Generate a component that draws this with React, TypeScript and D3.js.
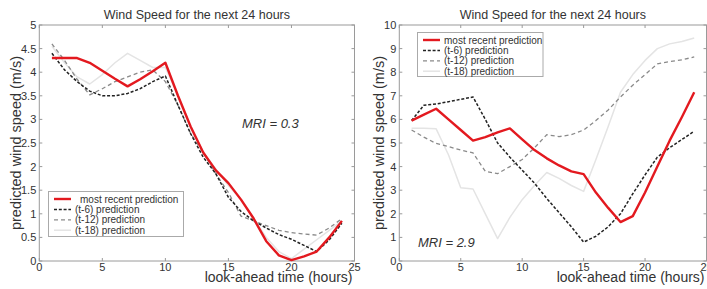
import * as d3 from "d3";

// look-ahead hours 1..24
const hours = d3.range(1, 25);

// left panel (MRI = 0.3)
const leftRecent = [4.3, 4.3, 4.3, 4.2, 4.03, 3.86, 3.7, 3.85, 4.02, 4.2, 3.5, 2.85, 2.3, 1.92, 1.65, 1.3, 0.9, 0.42, 0.12, 0.02, 0.1, 0.2, 0.5, 0.85];
const leftT6 = [4.4, 4.05, 3.8, 3.6, 3.5, 3.5, 3.55, 3.65, 3.8, 3.92, 3.3, 2.7, 2.2, 1.85, 1.35, 1.05, 0.85, 0.7, 0.56, 0.46, 0.33, 0.2, 0.45, 0.8];
const leftT12 = [4.6, 4.25, 3.85, 3.52, 3.65, 3.8, 3.9, 4.0, 4.05, 3.8, 3.3, 2.7, 2.3, 1.85, 1.45, 0.95, 0.85, 0.75, 0.65, 0.6, 0.57, 0.55, 0.7, 0.9];
const leftT18 = [4.55, 4.2, 3.9, 3.75, 3.95, 4.2, 4.4, 4.25, 4.1, 4.1, 3.5, 2.85, 2.3, 1.95, 1.6, 1.3, 0.9, 0.5, 0.2, 0.05, 0.25, 0.45, 0.65, 0.85];

// right panel (MRI = 2.9)
const rightRecent = [5.95, 6.2, 6.45, 6.0, 5.55, 5.1, 5.25, 5.45, 5.62, 5.15, 4.7, 4.35, 4.05, 3.8, 3.68, 2.9, 2.25, 1.65, 1.9, 2.9, 4.0, 5.1, 6.1, 7.15];
const rightT6 = [5.95, 6.6, 6.65, 6.75, 6.85, 6.95, 6.0, 5.0, 4.4, 3.85, 3.3, 2.65, 2.05, 1.45, 0.8, 1.05, 1.45, 2.0, 2.85, 3.65, 4.4, 4.8, 5.15, 5.5];
const rightT12 = [5.55, 5.25, 4.98, 4.85, 4.7, 4.58, 3.8, 3.7, 4.0, 4.3, 4.8, 5.35, 5.27, 5.35, 5.55, 5.95, 6.4, 6.95, 7.45, 7.9, 8.35, 8.45, 8.52, 8.65];
const rightT18 = [5.62, 5.62, 5.6, 4.5, 3.1, 3.05, 2.0, 0.95, 1.85, 2.6, 3.2, 3.75, 3.5, 3.2, 2.95, 4.3, 5.7, 7.15, 7.9, 8.5, 9.0, 9.2, 9.3, 9.45];

const seriesNames = ["most recent prediction", "(t-6) prediction", "(t-12) prediction", "(t-18) prediction"];
const xTicks = [0, 5, 10, 15, 20, 25];
const leftYTicks = [0, 0.5, 1, 1.5, 2, 2.5, 3, 3.5, 4, 4.5, 5];
const rightYTicks = [0, 1, 2, 3, 4, 5, 6, 7, 8, 9, 10];

const styles = [
  { stroke: "#e3191f", width: 2.4, dash: undefined },
  { stroke: "#222", width: 1.5, dash: "3,1.8" },
  { stroke: "#8a8a8a", width: 1.3, dash: "4,3" },
  { stroke: "#e4e4e4", width: 1.5, dash: undefined },
];

const font = "'Liberation Sans', Arial, sans-serif";

function Panel({ x0, x1, yMax, yTicks, series, mri, mriPos, legend, yLabelX }) {
  const top = 25, bottom = 261;
  const x = d3.scaleLinear([0, 25], [x0, x1]);
  const y = d3.scaleLinear([0, yMax], [bottom, top]);
  const line = d3.line<number>().x((_, i) => x(hours[i])).y(d => y(d));
  const fmt = (v: number) => String(v);

  return (
    <g fontFamily={font}>
      <rect x={x0} y={top} width={x1 - x0} height={bottom - top} fill="white" stroke="#9a9a9a" strokeWidth={1} />
      {xTicks.map(t => (
        <g key={"x" + t}>
          <line x1={x(t)} x2={x(t)} y1={bottom} y2={bottom - 3} stroke="#9a9a9a" />
          <line x1={x(t)} x2={x(t)} y1={top} y2={top + 3} stroke="#9a9a9a" />
          <text x={x(t)} y={bottom + 9.5} fontSize={11} textAnchor="middle" fill="#333">{fmt(t)}</text>
        </g>
      ))}
      {yTicks.map(t => (
        <g key={"y" + t}>
          <line x1={x0} x2={x0 + 3} y1={y(t)} y2={y(t)} stroke="#9a9a9a" />
          <line x1={x1} x2={x1 - 3} y1={y(t)} y2={y(t)} stroke="#9a9a9a" />
          <text x={x0 - 3} y={y(t) + 4} fontSize={11} textAnchor="end" fill="#333">{fmt(t)}</text>
        </g>
      ))}
      {[3, 2, 1, 0].map(i => (
        <path key={i} d={line(series[i]) || ""} fill="none" stroke={styles[i].stroke}
          strokeWidth={styles[i].width} strokeDasharray={styles[i].dash} strokeLinejoin="round" />
      ))}
      <text x={(x0 + x1) / 2} y={19} fontSize={12.5} textAnchor="middle" fill="#333">Wind Speed for the next 24 hours</text>
      <text x={x1 - 2} y={281.5} fontSize={14} textAnchor="end" fill="#333">look-ahead time (hours)</text>
      <text transform={`translate(${yLabelX},${(top + bottom) / 2}) rotate(-90)`} fontSize={14.5} textAnchor="middle" fill="#333">predicted wind speed (m/s)</text>
      <text x={mriPos[0]} y={mriPos[1]} fontSize={13} fontStyle="italic" fill="#333">{mri}</text>
      <rect x={legend.x} y={legend.y} width={legend.w} height={legend.h} fill="white" stroke="#aaa" strokeWidth={1} />
      {seriesNames.map((name, i) => {
        const ly = legend.y + 7.5 + i * 10.4;
        return (
          <g key={name}>
            <line x1={legend.x + 5.5} x2={legend.x + 22.5} y1={ly} y2={ly} stroke={styles[i].stroke}
              strokeWidth={styles[i].width} strokeDasharray={styles[i].dash} />
            <text x={legend.x + (i === 0 ? legend.recentText : 26.5)} y={ly + 3.6} fontSize={10} fill="#333">{name}</text>
          </g>
        );
      })}
    </g>
  );
}

export default function App() {
  return (
    <svg width={707} height={289} style={{ position: "absolute", left: 0, top: 0, background: "white" }}>
      <Panel x0={39.3} x1={354.5} yMax={5} yTicks={leftYTicks}
        series={[leftRecent, leftT6, leftT12, leftT18]}
        mri="MRI = 0.3" mriPos={[242, 128]}
        legend={{ x: 48.5, y: 191.5, w: 135, h: 45, recentText: 31.5 }}
        yLabelX={21} />
      <Panel x0={399.3} x1={706.5} yMax={10} yTicks={rightYTicks}
        series={[rightRecent, rightT6, rightT12, rightT18]}
        mri="MRI = 2.9" mriPos={[418, 247]}
        legend={{ x: 417.5, y: 32.5, w: 125.5, h: 44, recentText: 26.5 }}
        yLabelX={384} />
    </svg>
  );
}
